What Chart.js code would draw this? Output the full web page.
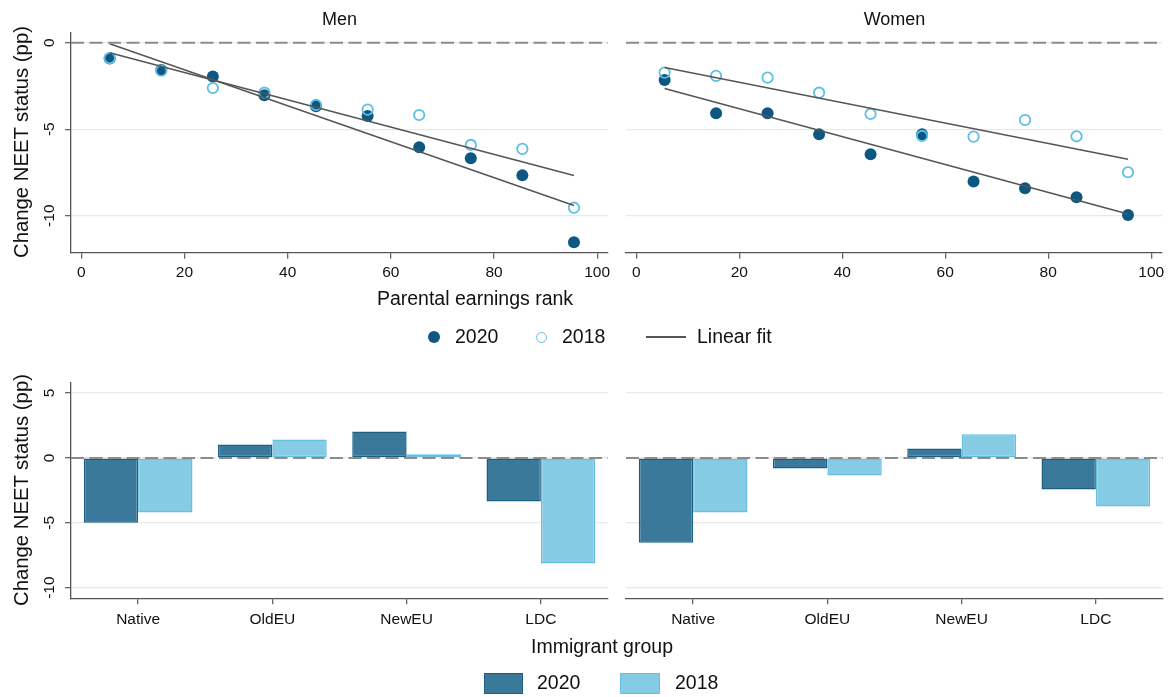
<!DOCTYPE html>
<html>
<head>
<meta charset="utf-8">
<title>Change NEET status by parental earnings rank and immigrant group</title>
<script src="https://cdn.jsdelivr.net/npm/chart.js@4.4.1/dist/chart.umd.min.js"></script>
<style>
  html, body { margin: 0; padding: 0; background: #fff; }
  #page { position: relative; width: 1169px; height: 697px; overflow: hidden;
          font-family: "Liberation Sans", Arial, Helvetica, sans-serif; color: #111; }
  #page canvas { position: absolute; left: 0; top: 0; }
  .txt { position: absolute; white-space: nowrap; line-height: 1; }
  .ctr { transform: translate(-50%, -50%); }
  .vmid { transform: translateY(-50%); }
  .rot { transform: translate(-50%, -50%) rotate(-90deg); }
  .panel-title { font-size: 18px; }
  .axis-title { font-size: 19.5px; }
  .y-title { font-size: 20.3px; }
  .key { font-size: 19.5px; }
  .mk { position: absolute; box-sizing: border-box; }
</style>
</head>
<body>
<div id="page">
  <canvas id="menRank" width="1169" height="697"></canvas>
  <canvas id="womenRank" width="1169" height="697"></canvas>
  <canvas id="menGroup" width="1169" height="697"></canvas>
  <canvas id="womenGroup" width="1169" height="697"></canvas>

  <div class="txt ctr panel-title" style="left:339.5px; top:19px;">Men</div>
  <div class="txt ctr panel-title" style="left:894.5px; top:19px;">Women</div>

  <div class="txt rot y-title" style="left:20.5px; top:142px;">Change NEET status (pp)</div>
  <div class="txt rot y-title" style="left:20.5px; top:490px;">Change NEET status (pp)</div>

  <div class="txt ctr axis-title" style="left:475px; top:299px;">Parental earnings rank</div>
  <div class="txt ctr axis-title" style="left:602px; top:647px;">Immigrant group</div>

  <!-- key for the rank panels -->
  <div class="mk" style="left:428px; top:331px; width:12px; height:12px; border-radius:50%; background:#0d5883;"></div>
  <div class="txt vmid key" style="left:455px; top:337px;">2020</div>
  <div class="mk" style="left:535.5px; top:331.5px; width:11px; height:11px; border-radius:50%; border:1.8px solid #5dbfe3;"></div>
  <div class="txt vmid key" style="left:562px; top:337px;">2018</div>
  <div class="mk" style="left:646px; top:336.3px; width:40px; height:1.5px; background:#555;"></div>
  <div class="txt vmid key" style="left:697px; top:337px;">Linear fit</div>

  <!-- key for the group panels -->
  <div class="mk" style="left:484px; top:672.5px; width:39px; height:21px; background:#3a7999; border:1.5px solid #1b5f86;"></div>
  <div class="txt vmid key" style="left:537px; top:683px;">2020</div>
  <div class="mk" style="left:620px; top:672.5px; width:40px; height:21px; background:#84cbe3; border:1.5px solid #66bfdf;"></div>
  <div class="txt vmid key" style="left:675px; top:683px;">2018</div>
</div>

<script>
// Parental earnings rank bins (decile midpoints) and change in NEET status (pp)
const rankBins      = [5.5, 15.5, 25.5, 35.5, 45.5, 55.5, 65.5, 75.5, 85.5, 95.5];
const menNeet2020   = [-0.92, -1.58, -1.96, -3.04, -3.68, -4.24, -6.05, -6.68, -7.67, -11.54];
const menNeet2018   = [-0.89, -1.62, -2.62, -2.89, -3.60, -3.87, -4.18, -5.91, -6.14, -9.54];
const womenNeet2020 = [-2.16, -4.08, -4.08, -5.30, -6.45, -5.30, -8.03, -8.42, -8.94, -9.96];
const womenNeet2018 = [-1.73, -1.92, -2.02, -2.89, -4.12, -5.39, -5.43, -4.47, -5.41, -7.49];
const rankTicks     = [0, 20, 40, 60, 80, 100];
const rankNeetTicks = [-10, -5, 0];

// Change in NEET status (pp) by immigrant group
const groups          = ['Native', 'OldEU', 'NewEU', 'LDC'];
const menGroup2020    = [-5.00, 1.03, 2.03, -3.36];
const menGroup2018    = [-4.21, 1.41, 0.28, -8.13];
const womenGroup2020  = [-6.54, -0.82, 0.72, -2.44];
const womenGroup2018  = [-4.21, -1.36, 1.82, -3.74];
const groupNeetTicks  = [-10, -5, 0, 5];

const FONT = '"Liberation Sans", Arial, Helvetica, sans-serif';
const TICK_FONT = '15.5px ' + FONT;
const C = {
  dot2020: '#0d5883', ring2018: '#5dbfe3', fit: '#555555',
  bar2020: '#3a7999', edge2020: '#1b5f86', bar2018: '#84cbe3', edge2018: '#66bfdf',
  axis: '#555555', tick: '#666666', grid: '#e9e9e9', zero: '#8c8c8c', text: '#111111'
};

// panel geometry (plot areas)
const PANEL_W = 537;
const LEFT_X = 71, RIGHT_X = 626;
const RANK_TOP = 33, RANK_BOTTOM = 252.7;
const GROUP_TOP = 383, GROUP_BOTTOM = 598.3;
const PAGE_W = 1169, PAGE_H = 697;

const pairs = (xs, ys) => xs.map((x, i) => ({ x, y: ys[i] }));

// least-squares line over the range of the bins
function linearFit(xs, ys) {
  const n = xs.length;
  const mx = xs.reduce((a, b) => a + b, 0) / n;
  const my = ys.reduce((a, b) => a + b, 0) / n;
  let sxy = 0, sxx = 0;
  for (let i = 0; i < n; i++) { sxy += (xs[i] - mx) * (ys[i] - my); sxx += (xs[i] - mx) ** 2; }
  const b = sxy / sxx, a = my - b * mx;
  const x0 = Math.min(...xs), x1 = Math.max(...xs);
  return [{ x: x0, y: a + b * x0 }, { x: x1, y: a + b * x1 }];
}

// dashed reference line at zero
const zeroLine = {
  id: 'zeroLine',
  afterDatasetsDraw(chart) {
    const { ctx, chartArea } = chart;
    const y = chart.scales.y.getPixelForValue(0);
    ctx.save();
    ctx.strokeStyle = C.zero;
    ctx.lineWidth = 2;
    ctx.setLineDash([13, 5.5]);
    ctx.beginPath();
    ctx.moveTo(chartArea.left, y);
    ctx.lineTo(chartArea.right, y);
    ctx.stroke();
    ctx.restore();
  }
};

// tick labels: x labels centred under their ticks, y labels written upwards
const tickLabels = {
  id: 'tickLabels',
  afterDraw(chart, args, opts) {
    const ctx = chart.ctx, area = chart.chartArea;
    const sx = chart.scales.x, sy = chart.scales.y;
    ctx.save();
    ctx.font = TICK_FONT;
    ctx.fillStyle = C.text;
    ctx.textAlign = 'center';
    ctx.textBaseline = 'middle';
    sx.ticks.forEach((t, i) => {
      const x = sx.getPixelForTick(i);
      ctx.fillText(String(t.label), x, area.bottom + opts.xGap);
    });
    if (opts.showY) {
      sy.ticks.forEach((t, i) => {
        const y = sy.getPixelForTick(i);
        ctx.save();
        ctx.translate(area.left - opts.yGap, y);
        ctx.rotate(-Math.PI / 2);
        ctx.fillText(String(t.label), 0, 0);
        ctx.restore();
      });
    }
    ctx.restore();
  }
};

function padding(left, top, bottom) {
  return { left, top, right: PAGE_W - left - PANEL_W, bottom: PAGE_H - bottom };
}

function xAxisCommon() {
  return {
    afterFit: s => { s.height = 0; },
    grid: { drawOnChartArea: false, drawTicks: true, tickLength: 6, color: C.tick, lineWidth: 1.3 },
    border: { display: true, color: C.axis, width: 1.3 },
    ticks: { display: false, autoSkip: false, maxRotation: 0, minRotation: 0 }
  };
}

function yAxisCommon(showAxis, min, max, tickValues) {
  return {
    type: 'linear', min, max,
    afterFit: s => { s.width = 0; },
    afterBuildTicks: s => { s.ticks = tickValues.map(v => ({ value: v })); },
    grid: { drawOnChartArea: true, color: C.grid, lineWidth: 1.3, drawTicks: showAxis, tickLength: 6, tickColor: C.tick },
    border: { display: showAxis, color: C.axis, width: 1.3 },
    ticks: { display: false }
  };
}

function rankPanel(id, left, y2020, y2018, showAxis) {
  return new Chart(document.getElementById(id), {
    type: 'scatter',
    data: {
      datasets: [
        { label: 'Linear fit', data: linearFit(rankBins, y2020), showLine: true, borderColor: C.fit,
          borderWidth: 1.5, pointRadius: 0, order: 0 },
        { label: 'Linear fit', data: linearFit(rankBins, y2018), showLine: true, borderColor: C.fit,
          borderWidth: 1.5, pointRadius: 0, order: 0 },
        { label: '2018', data: pairs(rankBins, y2018), pointRadius: 5.2, pointBorderWidth: 1.8,
          pointBackgroundColor: 'rgba(255,255,255,0)', pointBorderColor: C.ring2018, order: 1 },
        { label: '2020', data: pairs(rankBins, y2020), pointRadius: 6, pointBorderWidth: 0,
          pointBackgroundColor: C.dot2020, pointBorderColor: C.dot2020, order: 2 }
      ]
    },
    options: {
      responsive: false, animation: false, events: [],
      layout: { padding: padding(left, RANK_TOP, RANK_BOTTOM) },
      plugins: { legend: { display: false }, tooltip: { enabled: false },
                 tickLabels: { showY: showAxis, yGap: 21, xGap: 20 } },
      scales: {
        x: Object.assign(xAxisCommon(), {
          type: 'linear', min: -2, max: 102.1,
          afterBuildTicks: s => { s.ticks = rankTicks.map(v => ({ value: v })); }
        }),
        y: yAxisCommon(showAxis, -12.14, 0.56, rankNeetTicks)
      }
    },
    plugins: [zeroLine, tickLabels]
  });
}

function groupPanel(id, left, v2020, v2018, showAxis) {
  return new Chart(document.getElementById(id), {
    type: 'bar',
    data: {
      labels: groups,
      datasets: [
        { label: '2020', data: v2020, backgroundColor: C.bar2020, borderColor: C.edge2020, borderWidth: 1.5,
          borderSkipped: false, categoryPercentage: 0.81, barPercentage: 1.0 },
        { label: '2018', data: v2018, backgroundColor: C.bar2018, borderColor: C.edge2018, borderWidth: 1.5,
          borderSkipped: false, categoryPercentage: 0.81, barPercentage: 1.0 }
      ]
    },
    options: {
      responsive: false, animation: false, events: [],
      layout: { padding: padding(left, GROUP_TOP, GROUP_BOTTOM) },
      plugins: { legend: { display: false }, tooltip: { enabled: false },
                 tickLabels: { showY: showAxis, yGap: 21, xGap: 21 } },
      scales: {
        x: Object.assign(xAxisCommon(), {
          type: 'category', offset: true,
          grid: { offset: false, drawOnChartArea: false, drawTicks: true, tickLength: 6, color: C.tick, lineWidth: 1.3 }
        }),
        y: yAxisCommon(showAxis, -10.82, 5.77, groupNeetTicks)
      }
    },
    plugins: [zeroLine, tickLabels]
  });
}

rankPanel('menRank', LEFT_X, menNeet2020, menNeet2018, true);
rankPanel('womenRank', RIGHT_X, womenNeet2020, womenNeet2018, false);
groupPanel('menGroup', LEFT_X, menGroup2020, menGroup2018, true);
groupPanel('womenGroup', RIGHT_X, womenGroup2020, womenGroup2018, false);
</script>
</body>
</html>
